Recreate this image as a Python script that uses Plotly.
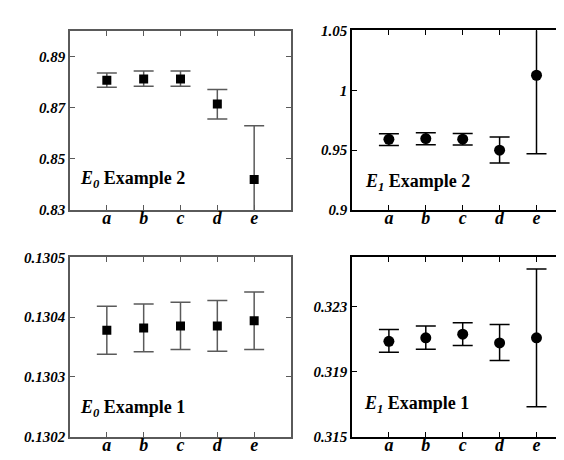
import plotly.graph_objects as go

# Daten
cats = ["a", "b", "c", "d", "e"]
pos = [1, 2, 3, 4, 5]

# E0 Example 2
e0_ex2 = [0.8809, 0.8814, 0.8814, 0.8716, 0.8420]
e0_ex2_hi = [0.8837, 0.8845, 0.8845, 0.8772, 0.8630]
e0_ex2_lo = [0.8781, 0.8785, 0.8785, 0.8657, 0.8210]

# E1 Example 2
e1_ex2 = [0.9591, 0.9597, 0.9592, 0.9500, 1.0126]
e1_ex2_hi = [0.9637, 0.9645, 0.9640, 0.9610, 1.0780]
e1_ex2_lo = [0.9540, 0.9545, 0.9543, 0.9392, 0.9470]

# E0 Example 1
e0_ex1 = [0.130378, 0.130382, 0.130385, 0.130385, 0.130394]
e0_ex1_hi = [0.130418, 0.130422, 0.130425, 0.130428, 0.130442]
e0_ex1_lo = [0.130338, 0.130342, 0.130346, 0.130343, 0.130346]

# E1 Example 1
e1_ex1 = [0.32085, 0.32107, 0.32129, 0.32075, 0.32107]
e1_ex1_hi = [0.32157, 0.32179, 0.32199, 0.32189, 0.32529]
e1_ex1_lo = [0.32018, 0.32037, 0.32059, 0.31968, 0.31685]

panels = [
    # values, hi, lo, symbol, size, color, yrange, yticks, ticktext, label, label pos
    (e0_ex2, e0_ex2_hi, e0_ex2_lo, "square", 9, "#5a5a5a",
     [0.83, 0.90], [0.83, 0.85, 0.87, 0.89], ["0.83", "0.85", "0.87", "0.89"],
     "<i>E</i><sub><i>0</i></sub> Example 2", 0.22, 0.17),
    (e1_ex2, e1_ex2_hi, e1_ex2_lo, "circle", 11, "#000000",
     [0.90, 1.05], [0.9, 0.95, 1.0, 1.05], ["0.9", "0.95", "1", "1.05"],
     "<i>E</i><sub><i>1</i></sub> Example 2", 0.30, 0.155),
    (e0_ex1, e0_ex1_hi, e0_ex1_lo, "square", 9, "#5a5a5a",
     [0.1302, 0.1305], [0.1302, 0.1303, 0.1304, 0.1305], ["0.1302", "0.1303", "0.1304", "0.1305"],
     "<i>E</i><sub><i>0</i></sub> Example 1", 0.22, 0.156),
    (e1_ex1, e1_ex1_hi, e1_ex1_lo, "circle", 11, "#000000",
     [0.315, 0.326], [0.315, 0.319, 0.323], ["0.315", "0.319", "0.323"],
     "<i>E</i><sub><i>1</i></sub> Example 1", 0.28, 0.178),
]

xdoms = [[62 / 564, 283 / 564], [344 / 564, 1.0], [62 / 564, 283 / 564], [344 / 564, 1.0]]
ydoms = [[1 - 201 / 460, 1 - 16 / 460], [1 - 201 / 460, 1 - 15 / 460],
         [1 - 436 / 460, 1 - 250 / 460], [1 - 436 / 460, 1 - 250 / 460]]
xranges = [[0, 6], [0, 220 / 36.9], [0, 6], [0, 220 / 36.9]]

font = "Liberation Serif"
fig = go.Figure()
layout = {}
annos = []
for i, (v, hi, lo, sym, sz, col, yr, yt, ytt, lab, lx, ly) in enumerate(panels):
    n = "" if i == 0 else str(i + 1)
    fig.add_trace(go.Scatter(
        x=pos, y=v, mode="markers",
        xaxis="x" + n, yaxis="y" + n,
        marker=dict(symbol=sym, size=sz, color="black"),
        error_y=dict(type="data", symmetric=False,
                     array=[h - m for h, m in zip(hi, v)],
                     arrayminus=[m - l for m, l in zip(v, lo)],
                     color=col, thickness=1.5, width=10),
        showlegend=False,
    ))
    right = i in (1, 3)
    layout["xaxis" + n] = dict(
        domain=xdoms[i], range=xranges[i], anchor="y" + n,
        tickvals=pos, ticktext=cats, ticks="inside", ticklen=5,
        tickcolor=col, showline=True, linecolor=col, linewidth=1.5,
        mirror="allticks", showgrid=False, zeroline=False, ticklabelstandoff=-9,
        tickfont=dict(family=font, size=18, color="black", weight="bold", style="italic"),
    )
    layout["yaxis" + n] = dict(
        domain=ydoms[i], range=yr, anchor="x" + n,
        tickvals=yt, ticktext=ytt, ticks="inside", ticklen=5,
        tickcolor=col, showline=True, linecolor=col, linewidth=1.5,
        mirror=False if right else "allticks", showgrid=False, zeroline=False,
        tickfont=dict(family=font, size=15, color="black", weight="bold", style="italic"),
    )
    annos.append(dict(
        text=lab, xref="x" + n, yref="y" + n + " domain", x=lx, y=ly,
        xanchor="left", yanchor="middle", showarrow=False,
        font=dict(family=font, size=18, color="black", weight="bold"),
    ))

fig.update_layout(
    **layout,
    annotations=annos,
    width=564, height=460,
    margin=dict(l=0, r=0, t=0, b=0),
    paper_bgcolor="white", plot_bgcolor="white",
)

fig.write_html("out.html")
